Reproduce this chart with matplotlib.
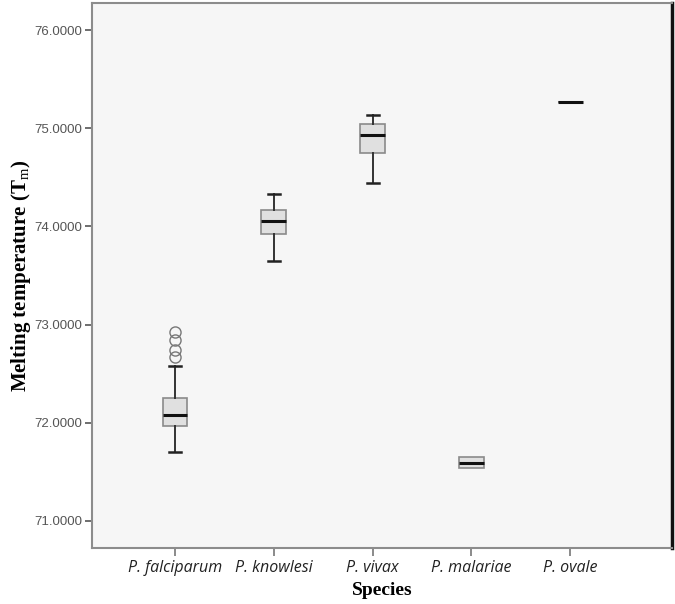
import matplotlib
matplotlib.use("Agg")
import matplotlib.pyplot as plt

plt.rcParams["mathtext.fontset"] = "custom"
plt.rcParams["mathtext.rm"] = "Liberation Serif"
plt.rcParams["mathtext.bf"] = "Liberation Serif:bold"

species = ["P. falciparum", "P. knowlesi", "P. vivax", "P. malariae", "P. ovale"]
whislo = [71.70, 73.65, 74.44, 71.54, 75.27]
q1 = [71.97, 73.92, 74.75, 71.54, 75.27]
med = [72.08, 74.05, 74.93, 71.59, 75.27]
q3 = [72.25, 74.17, 75.04, 71.65, 75.27]
whishi = [72.58, 74.33, 75.13, 71.65, 75.27]
fliers = [[72.92, 72.84, 72.74, 72.67], [], [], [], []]
yticks = [71.0, 72.0, 73.0, 74.0, 75.0, 76.0]

stats = []
for i, name in enumerate(species):
    stats.append(dict(label=name, whislo=whislo[i], q1=q1[i], med=med[i],
                      q3=q3[i], whishi=whishi[i], fliers=fliers[i]))

fig = plt.figure(figsize=(6.75, 6.04), dpi=100)
ax = fig.add_axes([92/675, 1 - 548/604, (672-92)/675, (548-3)/604])
ax.set_facecolor("#f6f6f6")

ax.bxp(stats, positions=range(len(species)), widths=0.25, patch_artist=True,
       showfliers=True,
       boxprops=dict(facecolor="#e0e0e0", edgecolor="#8a8a8a", linewidth=1.2),
       medianprops=dict(color="#111111", linewidth=2.2),
       whiskerprops=dict(color="#333333", linewidth=1.4),
       capprops=dict(color="#222222", linewidth=1.8),
       capwidths=[0.12, 0.12, 0.12, 0.0, 0.0],
       flierprops=dict(marker="o", markerfacecolor="none", markeredgecolor="#777777",
                       markersize=8, markeredgewidth=1.0))

ax.set_xlim(-0.84, 5.03)
ax.set_ylim(70.725, 76.275)
ax.set_yticks(yticks)
ax.set_yticklabels([f"{v:.4f}" for v in yticks], color="#555555",
                   fontsize=9.5, family="Liberation Sans")
ax.set_xticks(range(len(species)))
ax.set_xticklabels(species, fontsize=11.5, style="italic", family="Open Sans",
                   color="#222222")
ax.tick_params(axis="y", length=5, width=1.2, color="#555555", pad=2)
ax.tick_params(axis="x", length=6, width=1.2, color="#777777", pad=3)

for s in ["left", "top", "bottom"]:
    ax.spines[s].set_color("#8c8c8c")
    ax.spines[s].set_linewidth(1.5)
ax.spines["right"].set_color("#111111")
ax.spines["right"].set_linewidth(2.5)

ax.set_ylabel("Melting temperature (T$_{\\mathrm{m}}$)", family="Liberation Serif",
              fontweight="bold", fontsize=15, labelpad=1)
ax.set_xlabel("Species", family="Liberation Serif", fontweight="bold",
              fontsize=14, labelpad=4)

fig.savefig("out.png", dpi=100, facecolor="white")
